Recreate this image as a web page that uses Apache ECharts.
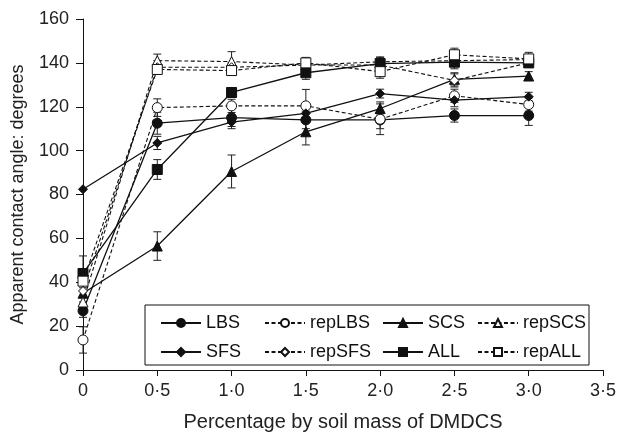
<!DOCTYPE html>
<html><head><meta charset="utf-8">
<script src="https://cdn.jsdelivr.net/npm/echarts@6/dist/echarts.min.js"></script>
<style>html,body{margin:0;padding:0;background:#fff}#c{width:619px;height:437px}</style>
</head><body><div id="c"></div>
<script>
const xValues = [0, 0.5, 1.0, 1.5, 2.0, 2.5, 3.0];
const LBS    = [27, 112.5, 115, 114, 114, 116, 116];
const repLBS = [13.7, 119.6, 120.4, 120.4, 114.3, 125, 121];
const SCS    = [35, 56.5, 90.5, 108.6, 119.2, 132.5, 134];
const repSCS = [31, 141, 140.6, 139, 140.5, 141, 141.5];
const SFS    = [82.4, 103.5, 113, 117, 126, 123, 124.6];
const repSFS = [36, 138, 138, 139, 139, 132, 140];
const ALL    = [44, 91.4, 126.5, 135.5, 139.7, 140.3, 140];
const repALL = [40.5, 137, 136.5, 140, 136, 143.7, 141.8];

const errLBS    = [3, 5, 4, 4, 4, 3, 4.5];
const errRepLBS = [6, 4, 3, 7.5, 7, 3, 3];
const errSCS    = [4, 6.5, 7.5, 6, 3, 3, 2];
const errRepSCS = [3, 3, 4.5, 2, 2, 2, 2];
const errSFS    = [0, 3, 3, 3, 2, 3, 2];
const errRepSFS = [3, 3, 2, 2, 2, 3, 2];
const errALL    = [8, 4.5, 2, 3, 3, 3, 2];
const errRepALL = [3, 2, 2, 2.5, 3, 3, 3];

const yTicks = [0, 20, 40, 60, 80, 100, 120, 140, 160];

const defs = [
  {name:'LBS', data:LBS, err:errLBS, symbol:'circle', open:false, dashed:false, size:10},
  {name:'repLBS', data:repLBS, err:errRepLBS, symbol:'circle', open:true, dashed:true, size:10},
  {name:'SCS', data:SCS, err:errSCS, symbol:'triangle', open:false, dashed:false, size:10},
  {name:'repSCS', data:repSCS, err:errRepSCS, symbol:'triangle', open:true, dashed:true, size:10},
  {name:'SFS', data:SFS, err:errSFS, symbol:'diamond', open:false, dashed:false, size:9},
  {name:'repSFS', data:repSFS, err:errRepSFS, symbol:'diamond', open:true, dashed:true, size:9},
  {name:'ALL', data:ALL, err:errALL, symbol:'rect', open:false, dashed:false, size:10},
  {name:'repALL', data:repALL, err:errRepALL, symbol:'rect', open:true, dashed:true, size:10}
];

const series = [];
defs.forEach(d => {
  series.push({
    type:'custom', name:d.name+'_err', silent:true, z:1,
    data: xValues.map((x,i)=>[x, d.data[i]-d.err[i], d.data[i]+d.err[i]]),
    renderItem: function(params, api){
      const lo = api.coord([api.value(0), api.value(1)]);
      const hi = api.coord([api.value(0), api.value(2)]);
      const w = 4;
      const st = {stroke:'#222', lineWidth:1};
      return {type:'group', children:[
        {type:'line', shape:{x1:lo[0],y1:lo[1],x2:hi[0],y2:hi[1]}, style:st},
        {type:'line', shape:{x1:lo[0]-w,y1:lo[1],x2:lo[0]+w,y2:lo[1]}, style:st},
        {type:'line', shape:{x1:hi[0]-w,y1:hi[1],x2:hi[0]+w,y2:hi[1]}, style:st}
      ]};
    }
  });
});
defs.forEach(d => {
  series.push({
    type:'line', name:d.name, z:3,
    data: xValues.map((x,i)=>[x, d.data[i]]),
    symbol:d.symbol, symbolSize:d.size, showAllSymbol:true,
    lineStyle:{color:'#111', width:d.dashed?1.1:1.3, type:d.dashed?[4,2.5]:'solid'},
    itemStyle:{color:d.open?'#fff':'#111', borderColor:'#111', borderWidth:1},
    emphasis:{disabled:true}, animation:false
  });
});

const legendCols = [['LBS','SFS'],['repLBS','repSFS'],['SCS','ALL'],['repSCS','repALL']];
const legendLeft = [155, 259, 377, 472];
const legends = legendCols.map((col,i)=>({
  orient:'vertical', left:legendLeft[i], top:309, itemGap:11, z:20,
  itemWidth:40, itemHeight:10, data:col, selectedMode:false,
  textStyle:{fontFamily:'Liberation Sans', fontSize:18, color:'#111'}
}));

const chart = echarts.init(document.getElementById('c'), null, {renderer:'canvas'});
chart.setOption({
  animation:false,
  backgroundColor:'#fff',
  grid:{left:83, top:19, width:529, height:353, containLabel:false},
  xAxis:{type:'value', min:0, max:3.5, interval:0.5,
    name:'Percentage by soil mass of DMDCS', nameLocation:'middle', nameGap:42,
    nameTextStyle:{fontFamily:'Liberation Sans', fontSize:20, color:'#222'},
    axisLine:{lineStyle:{color:'#111', width:1}},
    axisTick:{show:true, inside:false, length:6, lineStyle:{color:'#111'}},
    axisLabel:{fontFamily:'Liberation Sans', fontSize:18, color:'#222', margin:12,
      formatter: v => v===0 ? '0' : v.toFixed(1).replace('.', '\u00b7')},
    splitLine:{show:false}},
  yAxis:{type:'value', min:yTicks[0], max:yTicks[yTicks.length-1], interval:20,
    name:'Apparent contact angle: degrees', nameLocation:'middle', nameGap:56,
    nameTextStyle:{fontFamily:'Liberation Sans', fontSize:18, color:'#222'},
    axisLine:{show:true, lineStyle:{color:'#111', width:1}},
    axisTick:{show:true, inside:false, length:7, lineStyle:{color:'#111'}},
    axisLabel:{fontFamily:'Liberation Sans', fontSize:18, color:'#222', margin:14},
    splitLine:{show:false}},
  legend: legends,
  graphic:[{type:'rect', shape:{x:145, y:305, width:444, height:60},
    style:{fill:'#fff', stroke:'#111', lineWidth:1}, z:10}],
  series: series
});
</script></body></html>
